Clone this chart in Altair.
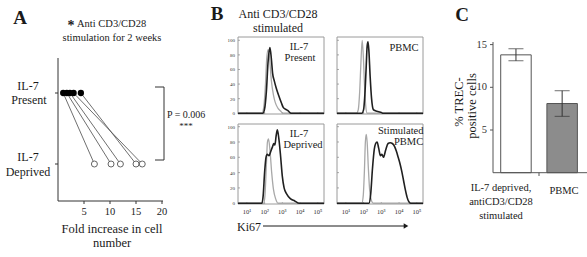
import altair as alt
import pandas as pd

FONT = "Liberation Serif"
INK = "#1a1a1a"

# ---------------- Panel A data ----------------
a_present = [1.0, 1.7, 2.3, 3.0, 4.4]
a_deprived = [7.0, 10.2, 12.0, 16.2, 15.0]
a_level_present = 1
a_level_deprived = 0
a_xticks = [5, 10, 15, 20]

# ---------------- Panel B data (x: log10 Ki67, y: % of max) ----------------
b_xticks = [1, 2, 3, 4, 5]
b_xtick_labels = ["10¹", "10²", "10³", "10⁴", "10⁵"]
b_yticks = [0, 20, 40, 60, 80, 100]

tl_gray_x = [0.5, 1.85, 1.95, 2.05, 2.12, 2.2, 2.28, 2.38, 2.5, 2.6, 2.75, 2.9, 3.05, 5.35]
tl_gray_y = [0, 0, 8, 40, 75, 87, 75, 45, 25, 15, 7, 3, 0, 0]
tl_black_x = [0.5, 1.9, 2.0, 2.1, 2.2, 2.3, 2.38, 2.45, 2.55, 2.65, 2.8, 2.95, 3.05, 3.15, 3.3, 3.5, 5.35]
tl_black_y = [0, 0, 6, 30, 72, 90, 75, 55, 44, 35, 24, 14, 8, 6, 4, 0, 0]

tr_gray_x = [0.5, 1.6, 1.7, 1.78, 1.85, 1.92, 1.98, 2.05, 2.12, 2.2, 5.35]
tr_gray_y = [0, 0, 5, 30, 70, 100, 80, 40, 10, 0, 0]
tr_black_x = [0.5, 1.9, 2.0, 2.07, 2.14, 2.2, 2.25, 2.3, 2.37, 2.45, 2.55, 2.7, 2.85, 3.0, 3.1, 5.35]
tr_black_y = [0, 0, 5, 25, 60, 92, 98, 85, 50, 20, 5, 3, 2, 1, 0, 0]

bl_gray_x = [0.5, 1.95, 2.02, 2.1, 2.16, 2.22, 2.3, 2.4, 2.5, 2.62, 2.76, 5.35]
bl_gray_y = [0, 0, 10, 50, 80, 84, 70, 40, 18, 6, 0, 0]
bl_black_x = [0.5, 1.85, 1.92, 2.0, 2.08, 2.15, 2.25, 2.35, 2.45, 2.52, 2.58, 2.65, 2.72, 2.8, 2.9,
              3.0, 3.1, 3.25, 3.45, 3.7, 3.95, 5.35]
bl_black_y = [0, 0, 10, 40, 60, 64, 62, 68, 74, 78, 76, 88, 96, 85, 62, 35, 20, 12, 6, 3, 0, 0]

br_gray_x = [0.5, 1.9, 1.98, 2.05, 2.1, 2.15, 2.2, 2.27, 2.35, 2.45, 2.55, 5.35]
br_gray_y = [0, 0, 10, 45, 80, 90, 80, 45, 15, 3, 0, 0]
br_black_x = [0.5, 2.3, 2.4, 2.5, 2.6, 2.68, 2.76, 2.85, 2.95, 3.03, 3.12, 3.25, 3.38, 3.5, 3.62,
              3.75, 3.85, 3.95, 4.05, 4.15, 4.25, 4.35, 4.45, 4.55, 4.65, 5.35]
br_black_y = [0, 0, 12, 45, 70, 78, 80, 72, 62, 64, 60, 70, 78, 79, 78, 74, 68, 60, 52, 42, 30,
              18, 8, 2, 0, 0]

# ---------------- Panel C data ----------------
c_groups = ["IL-7 deprived", "PBMC"]
c_values = [13.8, 8.1]
c_err_low = [13.1, 6.6]
c_err_high = [14.5, 9.6]
c_yticks = [5, 10, 15]

layers = []


def txt(s, x, y, size=12, weight="normal", align="center", angle=0, color=INK):
    return alt.Chart(pd.DataFrame({"k": [0]})).mark_text(
        text=s, font=FONT, fontSize=size, fontWeight=weight, align=align,
        baseline="middle", angle=angle, color=color
    ).encode(x=alt.value(x), y=alt.value(y))


def rule(x1, y1, x2, y2, color="#333", w=1):
    return alt.Chart(pd.DataFrame({"k": [0]})).mark_rule(color=color, strokeWidth=w).encode(
        x=alt.value(x1), x2=alt.value(x2), y=alt.value(y1), y2=alt.value(y2))


# ======== Panel A ========
AX = alt.Scale(domain=[0, 20], range=[58, 162], nice=False, zero=False)
AY = alt.Scale(domain=[0, 1], range=[164, 93], nice=False, zero=False)
dfa = pd.DataFrame({"p": a_present, "d": a_deprived,
                    "yp": [a_level_present] * 5, "yd": [a_level_deprived] * 5})
layers.append(alt.Chart(dfa).mark_rule(color="#4a4a4a", strokeWidth=0.8).encode(
    x=alt.X("p:Q", scale=AX, axis=None), x2="d:Q",
    y=alt.Y("yp:Q", scale=AY, axis=None), y2="yd:Q"))
layers.append(alt.Chart(dfa).mark_circle(color="#000", size=40, opacity=1).encode(
    x=alt.X("p:Q", scale=AX, axis=None), y=alt.Y("yp:Q", scale=AY, axis=None)))
layers.append(alt.Chart(dfa).mark_point(shape="circle", filled=False, fill="white", stroke="#555",
                                        strokeWidth=0.9, size=36, opacity=1).encode(
    x=alt.X("d:Q", scale=AX, axis=None), y=alt.Y("yd:Q", scale=AY, axis=None)))
# axes
layers.append(rule(58, 201, 163, 201))
layers.append(rule(58, 58, 58, 201))
dfat = pd.DataFrame({"t": a_xticks})
layers.append(alt.Chart(dfat).mark_rule(color="#333").encode(
    x=alt.X("t:Q", scale=AX, axis=None), y=alt.value(201), y2=alt.value(204)))
layers.append(alt.Chart(dfat).mark_text(font=FONT, fontSize=10.5, color=INK, baseline="middle").encode(
    x=alt.X("t:Q", scale=AX, axis=None), y=alt.value(212), text=alt.Text("t:Q")))
dfal = pd.DataFrame({"l": [a_level_present, a_level_deprived]})
layers.append(alt.Chart(dfal).mark_rule(color="#333").encode(
    y=alt.Y("l:Q", scale=AY, axis=None), x=alt.value(55), x2=alt.value(58)))
# bracket
layers.append(rule(164, 87, 164, 160))
layers.append(rule(155, 87, 164, 87))
layers.append(rule(155, 160, 164, 160))
# texts
layers += [
    txt("A", 20, 18, 19, "bold"),
    txt("*", 71, 26, 14, "bold"),
    txt("Anti CD3/CD28", 77, 24, 10.5, align="left"),
    txt("stimulation for 2 weeks", 112, 38, 10.5),
    txt("IL-7", 28, 86, 12),
    txt("Present", 29, 100, 12),
    txt("IL-7", 28, 157, 12),
    txt("Deprived", 28, 172, 12),
    txt("Fold increase in cell", 112, 229, 12.5),
    txt("number", 112, 243, 12.5),
    txt("P = 0.006", 167, 115, 10, align="left"),
    txt("***", 186, 126, 9),
]

# ======== Panel B ========
B_XDOM = [0.5, 5.35]
B_W = 86


def hist(left, top, bottom, ydom, gx, gy, kx, ky, ylabels, xlabels):
    xs = alt.Scale(domain=B_XDOM, range=[left, left + B_W], nice=False, zero=False)
    ys = alt.Scale(domain=ydom, range=[bottom, top], nice=False, zero=False)
    out = []
    fr = pd.DataFrame({"x0": [B_XDOM[0]], "x1": [B_XDOM[1]], "y0": [ydom[0]], "y1": [ydom[1]]})
    out.append(alt.Chart(fr).mark_rect(fill="white", fillOpacity=0, stroke="#9a9a9a", strokeWidth=1).encode(
        x=alt.X("x0:Q", scale=xs, axis=None), x2="x1:Q",
        y=alt.Y("y0:Q", scale=ys, axis=None), y2="y1:Q"))
    yt = pd.DataFrame({"v": b_yticks})
    out.append(alt.Chart(yt).mark_rule(color="#888", strokeWidth=0.7).encode(
        y=alt.Y("v:Q", scale=ys, axis=None), x=alt.value(left), x2=alt.value(left + 2)))
    xt = pd.DataFrame({"d": b_xticks, "lbl": b_xtick_labels})
    out.append(alt.Chart(xt).mark_rule(color="#888", strokeWidth=0.7).encode(
        x=alt.X("d:Q", scale=xs, axis=None), y=alt.value(bottom), y2=alt.value(bottom - 2)))
    out.append(alt.Chart(pd.DataFrame({"x": gx, "y": gy})).mark_line(
        color="#a8a8a8", strokeWidth=1.3, interpolate="monotone").encode(
        x=alt.X("x:Q", scale=xs, axis=None), y=alt.Y("y:Q", scale=ys, axis=None)))
    out.append(alt.Chart(pd.DataFrame({"x": kx, "y": ky})).mark_line(
        color="#202020", strokeWidth=1.6, interpolate="monotone").encode(
        x=alt.X("x:Q", scale=xs, axis=None), y=alt.Y("y:Q", scale=ys, axis=None)))
    if ylabels:
        out.append(alt.Chart(yt).mark_text(font=FONT, fontSize=5, color="#333", align="right",
                                           baseline="middle").encode(
            y=alt.Y("v:Q", scale=ys, axis=None), x=alt.value(left - 3), text=alt.Text("v:Q")))
    if xlabels:
        out.append(alt.Chart(xt).mark_text(font=FONT, fontSize=6.5, color="#333",
                                           baseline="middle").encode(
            x=alt.X("d:Q", scale=xs, axis=None), y=alt.value(212), text="lbl:N"))
    return out


layers += hist(238, 37, 114, [-1, 104.5], tl_gray_x, tl_gray_y, tl_black_x, tl_black_y, True, False)
layers += hist(337, 37, 114, [-1, 104.5], tr_gray_x, tr_gray_y, tr_black_x, tr_black_y, False, False)
layers += hist(238, 124, 204, [-1, 103.5], bl_gray_x, bl_gray_y, bl_black_x, bl_black_y, True, True)
layers += hist(337, 124, 204, [-1, 103.5], br_gray_x, br_gray_y, br_black_x, br_black_y, False, True)

layers += [
    txt("B", 217, 14, 19, "bold"),
    txt("Anti CD3/CD28", 278, 14, 12),
    txt("stimulated", 278, 28, 12),
    txt("IL-7", 299, 47, 10.5),
    txt("Present", 300, 58, 10.5),
    txt("PBMC", 404, 48, 10.5),
    txt("IL-7", 299, 134, 10.5),
    txt("Deprived", 303, 145, 10.5),
    txt("Stimulated", 378, 130.5, 10.5, align="left"),
    txt("PBMC", 394, 142, 10.5, align="left"),
    txt("Ki67", 237, 226.5, 12, align="left"),
    rule(263, 226, 404, 226, color=INK),
]
layers.append(alt.Chart(pd.DataFrame({"k": [0]})).mark_point(
    shape="triangle-right", filled=True, color=INK, size=28, opacity=1).encode(
    x=alt.value(406), y=alt.value(226)))
# mask for text running past the right panels' edge
layers.append(alt.Chart(pd.DataFrame({"k": [0]})).mark_rect(fill="white").encode(
    x=alt.value(424), x2=alt.value(452), y=alt.value(120), y2=alt.value(150)))

# ======== Panel C ========
CX = alt.Scale(type="band", domain=c_groups, range=[493, 585.1], paddingInner=0.34, paddingOuter=0.167)
CY = alt.Scale(domain=[0, 15], range=[172.7, 44.6], nice=False, zero=True)
dfc = pd.DataFrame({"g": c_groups, "v": c_values, "lo": c_err_low, "hi": c_err_high})
layers.append(alt.Chart(dfc).mark_bar(stroke="#555", strokeWidth=1).encode(
    x=alt.X("g:N", scale=CX, axis=None),
    y=alt.Y("v:Q", scale=CY, axis=None),
    fill=alt.Color("g:N", scale=alt.Scale(domain=c_groups, range=["#ffffff", "#8c8c8c"]), legend=None)))
layers.append(alt.Chart(dfc).mark_rule(color="#333", strokeWidth=1).encode(
    x=alt.X("g:N", scale=CX, axis=None), y=alt.Y("lo:Q", scale=CY, axis=None), y2="hi:Q"))
layers.append(alt.Chart(dfc).mark_tick(color="#333", thickness=1, size=15, orient="horizontal").encode(
    x=alt.X("g:N", scale=CX, axis=None), y=alt.Y("lo:Q", scale=CY, axis=None)))
layers.append(alt.Chart(dfc).mark_tick(color="#333", thickness=1, size=15, orient="horizontal").encode(
    x=alt.X("g:N", scale=CX, axis=None), y=alt.Y("hi:Q", scale=CY, axis=None)))
layers.append(rule(493, 42, 493, 172.7, color="#555"))
layers.append(rule(493, 172.7, 587, 172.7, color="#555"))
layers.append(rule(539, 172.7, 539, 176, color="#555"))
dfcy = pd.DataFrame({"t": c_yticks})
layers.append(alt.Chart(dfcy).mark_rule(color="#555").encode(
    y=alt.Y("t:Q", scale=CY, axis=None), x=alt.value(490), x2=alt.value(493)))
layers.append(alt.Chart(dfcy).mark_text(font=FONT, fontSize=10.5, color="#333", align="right",
                                        baseline="middle").encode(
    y=alt.Y("t:Q", scale=CY, axis=None), x=alt.value(487), text=alt.Text("t:Q")))
layers += [
    txt("C", 462, 15, 19, "bold"),
    txt("% TREC-", 459, 102, 12.5, angle=270),
    txt("positive cells", 472, 106, 12.5, angle=270),
    txt("IL-7 deprived,", 501, 187.5, 10.5),
    txt("antiCD3/CD28", 501, 201.5, 10.5),
    txt("stimulated", 501, 216, 10.5),
    txt("PBMC", 564, 191, 10.5),
]

chart = alt.layer(*layers).resolve_scale(x="independent", y="independent").properties(
    width=587, height=257, autosize=alt.AutoSizeParams(type="none"), padding=0
).configure_view(stroke=None)

chart.save("out.html", embed_options={"renderer": "svg", "actions": False})
